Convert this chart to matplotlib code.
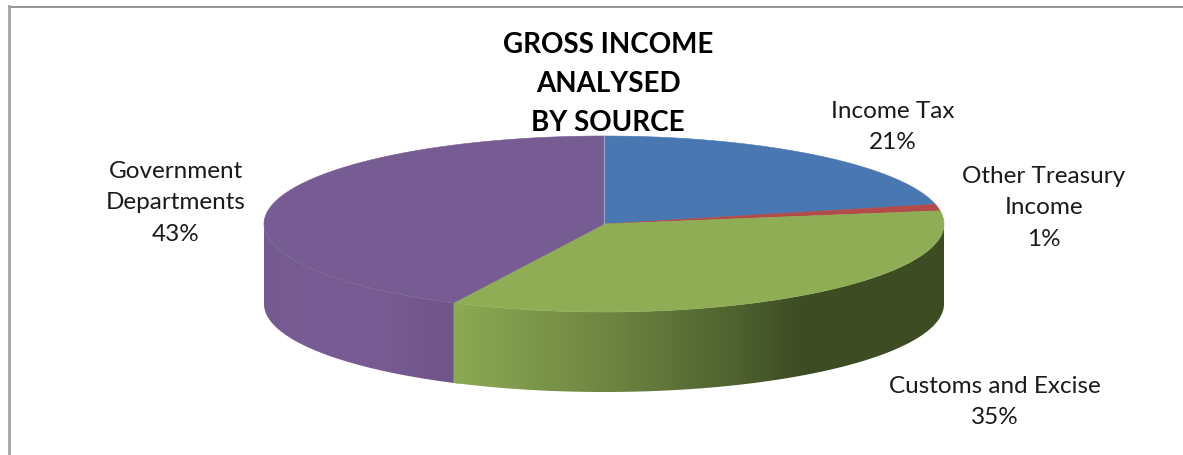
#!/usr/bin/env python3
"""Gross income by source, drawn as a tilted 3D style pie."""

import numpy as np
import matplotlib.pyplot as plt
from matplotlib.colors import LinearSegmentedColormap
from matplotlib.patches import Polygon

sources = ['Income Tax', 'Other Treasury\nIncome', 'Customs and Excise', 'Government\nDepartments']
shares = [21.4, 1.2, 34.7, 42.7]

# pie geometry in pixels
CX, CY, RX, RY, DEPTH = 604, 225, 340, 88, 80

top_colors = ['#4877B1', '#B24B49', '#8FAD55', '#775B93']

label_pos = [(893, 127), (1044, 208), (995, 402), (176, 203)]

plt.rcParams['font.family'] = ['Lato', 'DejaVu Sans']

fig = plt.figure(figsize=(11.83, 4.56), dpi=100)
ax = fig.add_axes([0, 0, 1, 1])
ax.axis('off')


def rim(a, b, dy=0):
    # angles clockwise from 12 o'clock, squashed into the ellipse
    t = np.radians(np.linspace(a, b, 240))
    return np.column_stack([CX + RX * np.sin(t), CY + dy - RY * np.cos(t)])


def wall(a, b, stops):
    # side of a slice, filled with a left to right gradient
    pts = np.vstack([rim(a, b), rim(a, b, DEPTH)[::-1]])
    x0, x1 = stops[0][0], stops[-1][0]
    cmap = LinearSegmentedColormap.from_list(
        'side', [((x - x0) / (x1 - x0), c) for x, c in stops])
    grad = np.linspace(0, 1, 512).reshape(1, -1)
    im = ax.imshow(grad, cmap=cmap, extent=[x0, x1, CY + RY + DEPTH, CY - RY],
                   aspect='auto', zorder=1)
    im.set_clip_path(Polygon(pts, closed=True, transform=ax.transData))


edges = np.cumsum([0] + shares) / sum(shares) * 360

# only the slices that cross the front half show a side
# purple runs a little under the green so no seam shows
wall(edges[3] - 1, 270, [(262, '#745A8F'), (300, '#775C93'), (380, '#775B92'), (460, '#6F548A')])
wall(90, edges[3], [(450, '#8DAA54'), (520, '#7F9A4B'), (620, '#6C8240'),
                    (720, '#526631'), (800, '#3E4D23'), (946, '#3F4C23')])
ax.set_xlim(0, 1183)
ax.set_ylim(456, 0)

for i, color in enumerate(top_colors):
    pts = np.vstack([[CX, CY], rim(edges[i], edges[i + 1])])
    ax.add_patch(Polygon(pts, closed=True, facecolor=color, edgecolor=color,
                         linewidth=0.4, zorder=2))

# faint light seam where the first slice starts
ax.plot([CX, CX], [CY - RY, CY], color='#9DA7C4', linewidth=0.8, zorder=3)

for name, share, (x, y) in zip(sources, shares, label_pos):
    ax.text(x, y, f'{name}\n{round(share)}%', ha='center', va='center', fontsize=17.5,
            color='#1a1a1a', linespacing=1.6, zorder=4)

ax.text(608, 84, 'GROSS INCOME\nANALYSED\nBY SOURCE', ha='center', va='center',
        fontsize=20, fontweight='bold', color='black', linespacing=1.6, zorder=4)

# frame: only the top and left sides are in shot
ax.plot([9, 1183], [7.5, 7.5], color='#8c8c8c', linewidth=1.3, zorder=5)
ax.plot([9.5, 9.5], [7, 456], color='#a3a3a3', linewidth=2, zorder=5)

fig.savefig('out.png', dpi=100)
